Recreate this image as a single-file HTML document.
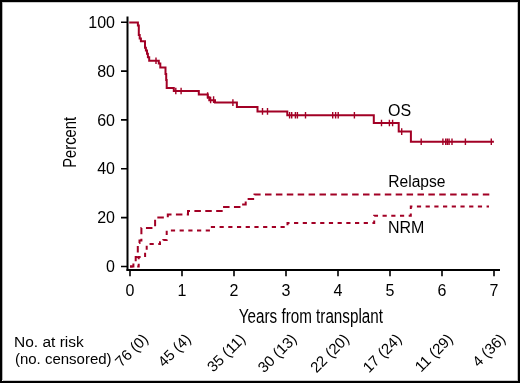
<!DOCTYPE html>
<html><head><meta charset="utf-8"><style>
html,body{margin:0;padding:0;background:#fff;}
body{width:520px;height:383px;overflow:hidden;position:relative;}
svg{position:absolute;left:0;top:0;display:block;will-change:transform;}
text{font-family:"Liberation Sans",sans-serif;fill:#000;}
</style></head><body>
<svg width="520" height="383" viewBox="0 0 520 383">
<rect x="0" y="0" width="520" height="383" fill="#fff"/>
<rect x="1" y="1" width="518" height="381" fill="none" stroke="#000" stroke-width="2"/>
<rect x="2" y="2" width="1" height="378" fill="#000" fill-opacity="0.3"/>
<rect x="3" y="2" width="514" height="1" fill="#000" fill-opacity="0.2"/>
<rect x="517" y="2" width="1" height="379" fill="#000" fill-opacity="0.25"/>
<rect x="3" y="380" width="514" height="1" fill="#000" fill-opacity="0.2"/>

<!-- axes -->
<g stroke="#000" fill="none">
<path d="M127.5,16.5 V270.8" stroke-width="2"/>
<path d="M126.5,269.9 H500" stroke-width="2"/>
<path d="M121,22.3 H127 M121,71.1 H127 M121,119.9 H127 M121,168.8 H127 M121,217.6 H127 M121,266.5 H127" stroke-width="1.6"/>
<path d="M130,270 V276.2 M182,270 V276.2 M234,270 V276.2 M286,270 V276.2 M338,270 V276.2 M390,270 V276.2 M442,270 V276.2 M494,270 V276.2" stroke-width="1.6"/>
</g>

<!-- y labels -->
<g font-size="16" text-anchor="end">
<text x="115" y="27.9">100</text>
<text x="115" y="76.7">80</text>
<text x="115" y="125.5">60</text>
<text x="115" y="174.4">40</text>
<text x="115" y="223.2">20</text>
<text x="115" y="272.1">0</text>
</g>
<!-- x labels -->
<g font-size="16" text-anchor="middle">
<text x="130" y="296">0</text>
<text x="182" y="296">1</text>
<text x="234" y="296">2</text>
<text x="286" y="296">3</text>
<text x="338" y="296">4</text>
<text x="390" y="296">5</text>
<text x="442" y="296">6</text>
<text x="494" y="296">7</text>
</g>

<text transform="translate(238.8,322.5) scale(0.777,1)" font-size="19.6">Years from transplant</text>
<text transform="translate(76.2,142.4) rotate(-90) scale(0.797,1)" font-size="18.5" text-anchor="middle">Percent</text>

<g font-size="15">
<text x="388" y="115.8" font-size="16">OS</text>
<text x="388.3" y="186.5" font-size="15.6">Relapse</text>
<text x="388" y="232.8" font-size="16">NRM</text>
<text transform="translate(14,346.7) scale(1.035,1)">No. at risk</text>
<text x="14.9" y="364">(no. censored)</text>
</g>

<!-- at-risk rotated -->
<g font-size="15" text-anchor="end">
<text transform="translate(149,340) rotate(-45)">76 (0)</text>
<text transform="translate(191.7,340) rotate(-45)">45 (4)</text>
<text transform="translate(246.2,340) rotate(-45)">35 (11)</text>
<text transform="translate(297.6,340) rotate(-45)">30 (13)</text>
<text transform="translate(350,340) rotate(-45)">22 (20)</text>
<text transform="translate(402.5,340) rotate(-45)">17 (24)</text>
<text transform="translate(453.8,340) rotate(-45)">11 (29)</text>
<text transform="translate(506.2,340) rotate(-45)">4 (36)</text>
</g>

<!-- curves -->
<g fill="none" stroke="#a20025" stroke-width="2" stroke-linejoin="miter" stroke-linecap="butt">
<path id="os" d="M129.2,22.5 H137.9 V25.6 H138.8 V35 H139.7 V38.5 H140.9 V41.3 H145 V47.8 H145.9 V50.5 H147 V53.7 H147.9 V57.2 H149.2 V60.7 H158.8 V63.6 H160.3 V67.4 H165.5 V74 H166.2 V80 H166.7 V87.9 H173.8 V91 H198.8 V94.4 H207.8 V97.3 H209.3 V100.2 H215 V102.6 H236.9 V107.1 H257.5 V111.4 H287.3 V115.3 H373.8 V123 H398.7 V131.6 H410.9 V141.8 H493.9"/>
<path id="rel" stroke-dasharray="6.5 4.39" d="M130,266.5 H133.4 V263 H135.7 V257 H137.8 V243 H139.5 V240.5 H141.4 V228 H155.1 V217.6 H167.8 V214.4 H188 V211.1 H222.7 V207.1 H241.5 V204.4 H245.7 V199 H254.5 V194.6 H490"/>
<path id="nrm" stroke-dasharray="4.2 4.51" stroke-dashoffset="1.5" d="M130,266.5 H138.7 V257 H145.1 V250 H146.7 V244 H160 V242.3 H163.3 V240 H166.7 V230.5 H210.6 V226.9 H287.5 V223 H374.2 V215.7 H410.8 V206.5 H489"/>
</g>
<!-- censor ticks -->
<g stroke="#a20025" stroke-width="1.4" fill="none">
<path d="M156.0,57.4 V64.0 M175.8,87.7 V94.3 M181.1,87.7 V94.3 M207.6,92.2 V98.8 M210.6,96.7 V103.3 M213.6,96.3 V102.9 M232.9,99.3 V105.9 M262.5,108.1 V114.7 M267.5,108.1 V114.7 M289.6,112.0 V118.6 M291.7,112.0 V118.6 M295.4,112.0 V118.6 M297.4,112.0 V118.6 M305.5,112.0 V118.6 M332.7,112.0 V118.6 M335.6,112.0 V118.6 M338.2,112.0 V118.6 M354.4,112.0 V118.6 M381.5,119.7 V126.3 M389.4,119.7 V126.3 M392.6,119.7 V126.3 M401.7,128.3 V134.9 M421.2,138.5 V145.1 M442.9,138.5 V145.1 M445.7,138.5 V145.1 M447.4,138.5 V145.1 M449.1,138.5 V145.1 M452.0,138.5 V145.1 M465.4,138.5 V145.1 M491.3,138.5 V145.1"/>
</g>
</svg>
</body></html>
